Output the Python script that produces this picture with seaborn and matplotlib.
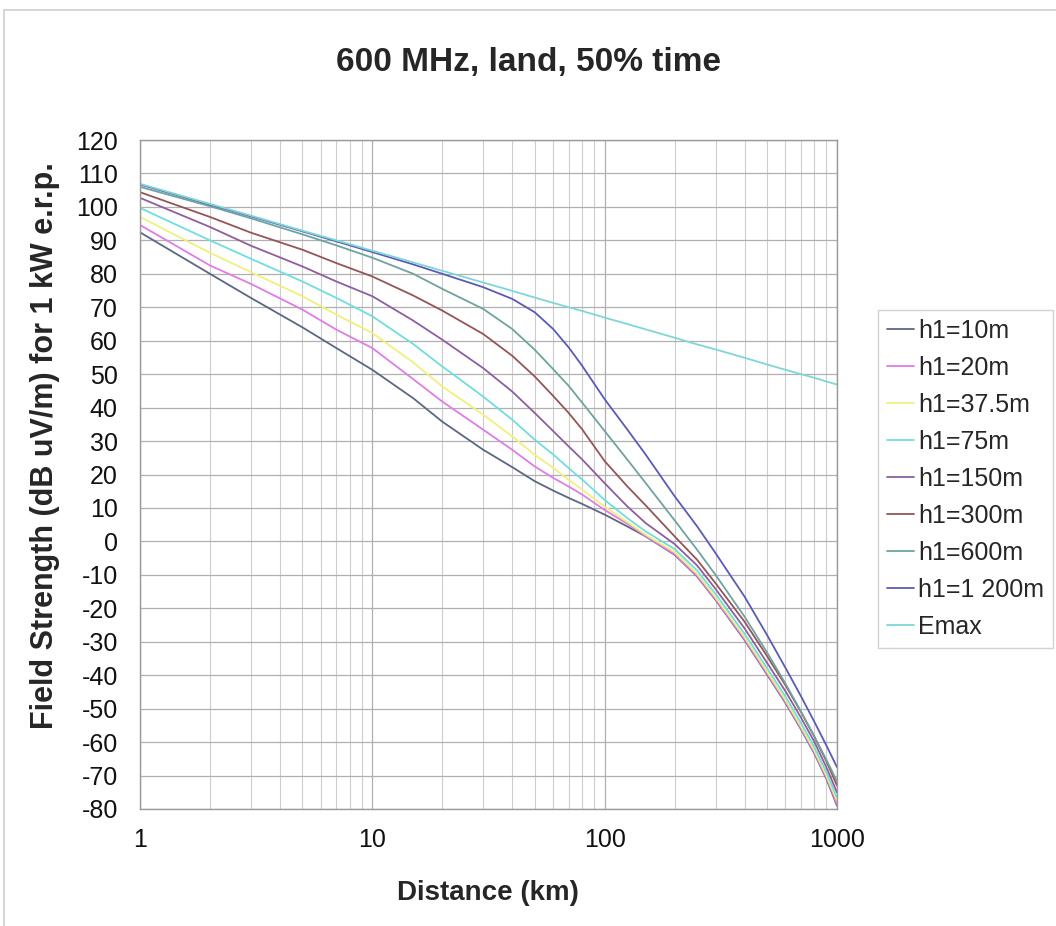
import matplotlib
matplotlib.use("Agg")
import matplotlib.pyplot as plt
from matplotlib.lines import Line2D
from matplotlib.ticker import LogLocator, NullFormatter
import pandas as pd
import seaborn as sns

distance_km = [1, 2, 3, 5, 7, 10, 15, 20, 30, 40, 50, 60, 70, 80, 100, 125, 150,
               200, 250, 300, 400, 500, 600, 700, 800, 900, 1000]

# field strength (dB uV/m) for each transmitting antenna height
h1_10m = [92.4, 80.0, 72.8, 64.0, 57.8, 51.3, 42.8, 35.8, 27.4, 22.2, 18.0, 15.2, 13.0, 11.2, 8.0, 4.5, 1.5,
          -4.0, -10.5, -17.5, -29.5, -39.8, -48.3, -56.2, -63.5, -71.0, -79.0]
h1_20m = [94.6, 82.5, 77.0, 69.3, 63.3, 57.8, 48.5, 41.8, 33.4, 27.4, 22.4, 19.0, 16.4, 14.0, 9.4, 5.3, 1.6,
          -3.8, -10.3, -17.3, -29.2, -39.5, -48.0, -55.9, -63.2, -70.6, -78.5]
h1_37m = [97.0, 86.3, 80.5, 73.3, 67.8, 62.3, 53.5, 46.3, 37.9, 31.4, 25.9, 22.0, 18.4, 15.5, 10.4, 5.8, 2.0,
          -3.2, -9.7, -16.7, -28.6, -38.9, -47.4, -55.3, -62.6, -70.0, -77.5]
h1_75m = [99.7, 90.0, 84.5, 77.7, 72.8, 67.3, 59.0, 52.3, 43.3, 36.4, 30.4, 26.0, 21.9, 18.5, 12.4, 7.0, 3.0,
          -2.3, -8.7, -15.7, -27.6, -37.9, -46.4, -54.3, -61.6, -69.0, -76.5]
h1_150m = [102.7, 94.0, 88.4, 82.2, 77.7, 73.3, 66.0, 60.3, 51.8, 44.8, 38.4, 33.0, 28.4, 24.5, 17.4, 10.5, 5.5,
           -0.8, -7.2, -14.2, -26.0, -36.3, -44.8, -52.7, -60.0, -67.5, -75.0]
h1_300m = [104.4, 97.0, 92.3, 87.2, 83.2, 79.2, 73.5, 69.0, 62.0, 55.5, 49.3, 43.5, 38.4, 33.5, 24.0, 16.5, 10.8,
           1.5, -5.5, -12.5, -24.0, -34.3, -43.0, -51.0, -58.5, -65.7, -73.0]
h1_600m = [106.0, 100.2, 96.6, 91.8, 88.5, 84.8, 80.0, 75.5, 69.5, 63.5, 57.3, 51.5, 46.5, 41.5, 33.0, 24.5, 17.5,
           6.3, -2.5, -10.0, -22.5, -33.2, -42.5, -50.9, -58.4, -65.3, -71.7]
h1_1200m = [106.7, 100.7, 97.2, 92.7, 89.7, 86.5, 82.8, 80.0, 76.0, 72.5, 68.5, 63.5, 58.0, 52.5, 42.5, 33.5, 26.0,
            13.5, 4.5, -3.5, -16.5, -28.0, -37.8, -46.3, -54.0, -61.0, -67.5]
emax = [106.9, 100.9, 97.4, 92.9, 90.0, 86.9, 83.4, 80.9, 77.4, 74.9, 72.9, 71.3, 70.0, 68.9, 66.9, 65.0, 63.4,
        60.9, 58.9, 57.4, 54.9, 52.9, 51.3, 50.0, 48.9, 47.8, 46.9]

series_names = ["h1=10m", "h1=20m", "h1=37.5m", "h1=75m", "h1=150m",
                "h1=300m", "h1=600m", "h1=1 200m", "Emax"]
series_values = [h1_10m, h1_20m, h1_37m, h1_75m, h1_150m, h1_300m, h1_600m, h1_1200m, emax]
series_colors = ["#5c6784", "#e07ce4", "#f0f07a", "#6fdede", "#8e5e9e",
                 "#955555", "#6fa3a0", "#5a5ab8", "#7fd6d6"]

rows = []
for name, vals in zip(series_names, series_values):
    for d, v in zip(distance_km, vals):
        rows.append({"Distance": d, "Field": v, "Series": name})
df = pd.DataFrame(rows)

sns.set_style("white")
plt.rcParams["font.family"] = ["Liberation Sans", "DejaVu Sans"]
plt.rcParams["axes.unicode_minus"] = False

fig = plt.figure(figsize=(10.56, 9.26), dpi=100)
ax = fig.add_axes([140 / 1056, 1 - 809 / 926, 697 / 1056, 669 / 926])

sns.lineplot(data=df, x="Distance", y="Field", hue="Series", hue_order=series_names,
             palette=dict(zip(series_names, series_colors)), estimator=None,
             linewidth=1.3, legend=False, ax=ax)

ax.set_xscale("log")
ax.set_xlim(1, 1000)
ax.set_ylim(-80, 120)
ax.set_xticks([1, 10, 100, 1000])
ax.set_xticklabels(["1", "10", "100", "1000"])
ax.xaxis.set_minor_locator(LogLocator(base=10, subs=range(2, 10)))
ax.xaxis.set_minor_formatter(NullFormatter())
ax.set_yticks(range(-80, 121, 10))
ax.grid(True, which="major", axis="both", color="#b0b0b0", linewidth=0.9)
ax.grid(True, which="minor", axis="x", color="#cdcdcd", linewidth=0.8)
ax.tick_params(axis="both", which="both", length=0, labelsize=18, colors="#111111")
ax.tick_params(axis="y", pad=16)
ax.tick_params(axis="x", pad=14)
ax.set_xlabel("")
ax.set_ylabel("")
for s in ax.spines.values():
    s.set_color("#999999")
    s.set_linewidth(1.0)

fig.text(528 / 1056, 1 - 62 / 926, "600 MHz, land, 50% time",
         ha="center", va="center", fontsize=24, fontweight="bold")
fig.text(488 / 1056, 1 - 893 / 926, "Distance (km)",
         ha="center", va="center", fontsize=20, fontweight="bold")
fig.text(45 / 1056, 1 - 446 / 926, "Field Strength (dB uV/m) for 1 kW e.r.p.",
         ha="center", va="center", rotation=90, fontsize=22, fontweight="bold")

handles = [Line2D([0], [0], color=c, linewidth=1.3) for c in series_colors]
fig.legend(handles, series_names, loc="upper left",
           bbox_to_anchor=(878 / 1056, 1 - 310 / 926), frameon=True, fancybox=False,
           edgecolor="#c8c8c8", fontsize=18, handlelength=1.1, handletextpad=0.15,
           labelspacing=0.52, borderpad=0.35, borderaxespad=0)

# outer chart-area frame
fig.add_artist(Line2D([4 / 1056, 1], [1 - 10 / 926, 1 - 10 / 926], color="#d0d0d0", linewidth=1.2))
fig.add_artist(Line2D([4 / 1056, 4 / 1056], [0, 1 - 10 / 926], color="#d0d0d0", linewidth=1.2))

fig.savefig("out.png", dpi=100)
